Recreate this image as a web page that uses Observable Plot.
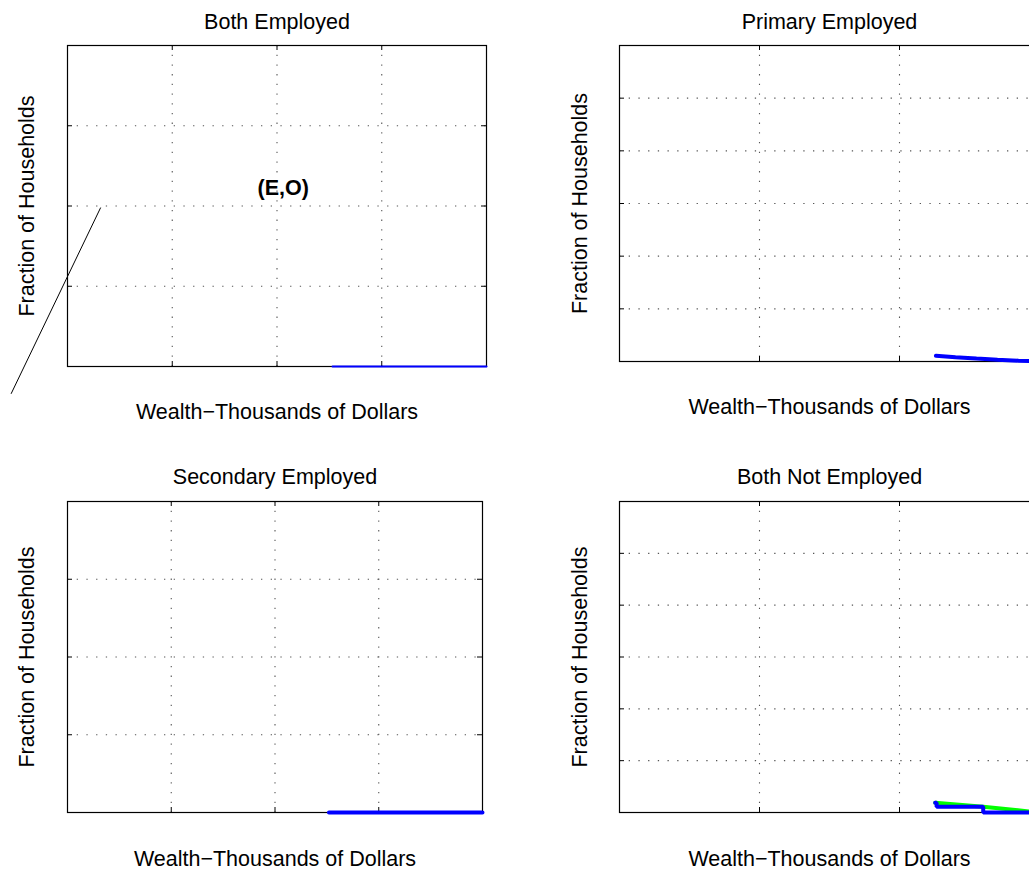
<!DOCTYPE html>
<html>
<head>
<meta charset="utf-8">
<script src="https://cdn.jsdelivr.net/npm/d3@7"></script>
<script src="https://cdn.jsdelivr.net/npm/@observablehq/plot@0.6"></script>
<style>
  html, body { margin: 0; padding: 0; background: #fff; overflow: hidden; width: 1029px; height: 870px; }
  #fig { position: relative; width: 1029px; height: 870px; overflow: hidden; background: #fff; }
  #fig svg { position: absolute; }
</style>
</head>
<body>
<div id="fig"></div>
<script>
// ---------- text ----------
const panelTitles = ["Both Employed", "Primary Employed", "Secondary Employed", "Both Not Employed"];
const xLabel = "Wealth\u2212Thousands of Dollars";
const yLabel = "Fraction of Households";
const annotText = "(E,O)";

// ---------- tick values (no tick labels are shown) ----------
const xTicksLeft = [0, 100, 200, 300, 400];
const xTicksRight = [0, 100, 200, 300];
const yTicksLeft = [0, 0.05, 0.1, 0.15, 0.2];
const yTicksRight = [0, 0.05, 0.1, 0.15, 0.2, 0.25, 0.3];

// ---------- series ----------
// Both Employed
const bothEmpWealth = [253, 280, 310, 340, 370, 400];
const bothEmpBlue   = [0, 0, 0, 0, 0, 0];
// Primary Employed
const primEmpWealth = [226, 240, 255, 270, 285, 300];
const primEmpBlue   = [0.0054, 0.0040, 0.0028, 0.0017, 0.0008, 0.0002];
// Secondary Employed
const secEmpWealth  = [252, 280, 310, 340, 370, 400];
const secEmpBlue    = [0, 0, 0, 0, 0, 0];
// Both Not Employed
const notEmpBlueWealth  = [225.5, 226.5, 259.8, 300];
const notEmpBlue        = [0.0094, 0.0055, 0, 0];
const notEmpGreenWealth = [225.5, 259.8, 300];
const notEmpGreen       = [0.0094, 0.0055, 0];

// annotation (data units of the first panel)
const annotTextX = [206];
const annotTextY = [0.111];
const annotLineX = [31.5, -53.7];
const annotLineY = [0.0988, -0.0168];

// ---------- styling ----------
const FONT = "'Liberation Sans', Arial, Helvetica, sans-serif";
const FS = 21.5;
const BLUE = "#0000ff", GREEN = "#00ff00";
const gridStyle = {stroke: "#555", strokeWidth: 1.1, strokeDasharray: "1.3,8.4"};

function panel(cfg) {
  const {left, top, width, height, mL, mR, mT, mB, xTicks, yTicks, title,
         titleDy, xLabDy, yLabDx, series, extra = []} = cfg;
  const H = height - mT - mB;
  const W = width - mL - mR;
  const marks = [
    Plot.ruleY(yTicks.slice(1, -1), {y: d => d, ...gridStyle}),
    Plot.ruleX(xTicks.slice(1, -1), {x: d => d, ...gridStyle}),
    Plot.frame({stroke: "#000", strokeWidth: 1.2}),
    Plot.tickX(xTicks, {x: d => d, insetTop: H - 5, stroke: "#000"}),
    Plot.tickX(xTicks, {x: d => d, insetBottom: H - 5, stroke: "#000"}),
    Plot.tickY(yTicks, {y: d => d, insetRight: W - 5, stroke: "#000"}),
    Plot.tickY(yTicks, {y: d => d, insetLeft: W - 5, stroke: "#000"}),
    ...series.map(s => Plot.line(s.x, {x: s.x, y: s.y, stroke: s.color, strokeWidth: s.width,
                                       curve: s.curve || "linear", strokeLinejoin: "miter"})),
    Plot.text([title], {text: d => d, frameAnchor: "top", dy: titleDy, lineAnchor: "bottom",
                        fontSize: FS, fill: "#000"}),
    Plot.text([xLabel], {text: d => d, frameAnchor: "bottom", dy: xLabDy, lineAnchor: "bottom",
                         fontSize: FS, fill: "#000"}),
    Plot.text([yLabel], {text: d => d, frameAnchor: "left", dx: yLabDx, rotate: -90,
                         lineAnchor: "bottom", textAnchor: "middle", fontSize: FS, fill: "#000"}),
    ...extra
  ];
  const svg = Plot.plot({
    width, height,
    marginLeft: mL, marginRight: mR, marginTop: mT, marginBottom: mB,
    x: {domain: [xTicks[0], xTicks[xTicks.length - 1]], axis: null},
    y: {domain: [yTicks[0], yTicks[yTicks.length - 1]], axis: null},
    style: {background: "transparent", maxWidth: "none", overflow: "visible",
            fontFamily: FONT, position: "absolute", left: left + "px", top: top + "px"},
    marks
  });
  document.getElementById("fig").appendChild(svg);
}

// Top-left: Both Employed
panel({
  left: 0, top: 0, width: 515, height: 430, mL: 67, mR: 29, mT: 45, mB: 64,
  xTicks: xTicksLeft, yTicks: yTicksLeft, title: panelTitles[0],
  titleDy: -17, xLabDy: 52, yLabDx: -34,
  series: [{x: bothEmpWealth, y: bothEmpBlue, color: BLUE, width: 2}],
  extra: [
    Plot.line(annotLineX, {x: annotLineX, y: annotLineY, stroke: "#000", strokeWidth: 1}),
    Plot.text(annotTextX, {x: annotTextX, y: annotTextY, text: () => annotText,
                           fontSize: FS, fontWeight: "bold", fill: "#000", lineAnchor: "middle"})
  ]
});

// Top-right: Primary Employed
panel({
  left: 520, top: 0, width: 540, height: 430, mL: 99, mR: 21, mT: 45, mB: 69,
  xTicks: xTicksRight, yTicks: yTicksRight, title: panelTitles[1],
  titleDy: -17, xLabDy: 52, yLabDx: -32.5,
  series: [{x: primEmpWealth, y: primEmpBlue, color: BLUE, width: 4, curve: "natural"}]
});

// Bottom-left: Secondary Employed
panel({
  left: 0, top: 440, width: 515, height: 430, mL: 67, mR: 33, mT: 61, mB: 58,
  xTicks: xTicksLeft, yTicks: yTicksLeft, title: panelTitles[2],
  titleDy: -18, xLabDy: 53, yLabDx: -34,
  series: [{x: secEmpWealth, y: secEmpBlue, color: BLUE, width: 4}]
});

// Bottom-right: Both Not Employed
panel({
  left: 520, top: 440, width: 540, height: 430, mL: 99, mR: 21, mT: 61, mB: 58,
  xTicks: xTicksRight, yTicks: yTicksRight, title: panelTitles[3],
  titleDy: -18, xLabDy: 53, yLabDx: -32.5,
  series: [
    {x: notEmpGreenWealth, y: notEmpGreen, color: GREEN, width: 4},
    {x: notEmpBlueWealth, y: notEmpBlue, color: BLUE, width: 4, curve: "step-after"}
  ]
});
</script>
</body>
</html>
